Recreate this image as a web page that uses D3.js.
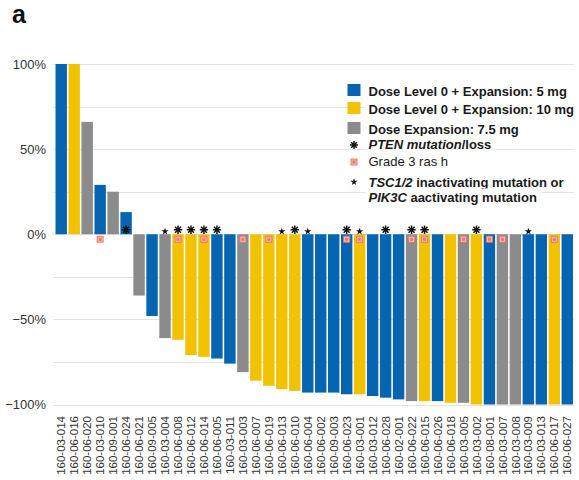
<!DOCTYPE html>
<html>
<head>
<meta charset="utf-8">
<script src="https://cdn.jsdelivr.net/npm/d3@7/dist/d3.min.js"></script>
<style>
  html, body { margin: 0; padding: 0; background: #fff; }
  svg { display: block; font-family: "Liberation Sans", Arial, Helvetica, sans-serif; }
</style>
</head>
<body>
<svg id="chart" width="579" height="480"></svg>
<script>
// Patients ordered by best change in tumour size (waterfall)
const patients = [
  "160-03-014","160-06-016","160-06-020","160-03-010","160-09-001","160-06-024",
  "160-06-021","160-09-005","160-03-004","160-06-008","160-06-012","160-06-014",
  "160-06-005","160-03-011","160-03-003","160-06-007","160-06-019","160-06-013",
  "160-06-010","160-06-004","160-06-002","160-09-003","160-06-023","160-03-001",
  "160-03-012","160-06-028","160-02-001","160-06-022","160-06-015","160-06-026",
  "160-06-018","160-03-005","160-03-002","160-08-001","160-03-007","160-03-008",
  "160-03-009","160-03-013","160-06-017","160-06-027"
];

// Best percentage change from baseline
const change = [
  100, 100, 66, 29, 25, 13,
  -36, -48, -61, -62, -71, -72,
  -73, -76, -81, -86, -89, -91,
  -92, -93, -93, -93, -94, -94,
  -95, -96, -97, -98, -98, -98,
  -99, -99, -100, -100, -100, -100,
  -100, -100, -100, -100
];

// Dose cohort of each patient: 5 = 5 mg, 10 = 10 mg, 7.5 = 7.5 mg expansion
const dose = [
  5, 10, 7.5, 5, 7.5, 5,
  7.5, 5, 7.5, 10, 10, 10,
  5, 5, 7.5, 10, 10, 10,
  10, 5, 5, 5, 5, 10,
  5, 5, 5, 7.5, 10, 5,
  10, 7.5, 10, 5, 7.5, 7.5,
  5, 5, 10, 5
];

const ptenPatients = ["160-06-024","160-06-008","160-06-012","160-06-014","160-06-005",
  "160-06-010","160-06-023","160-06-028","160-06-022","160-06-015","160-03-002"];
const rashPatients = ["160-03-010","160-06-008","160-06-014","160-03-003","160-06-019",
  "160-06-023","160-03-001","160-06-022","160-06-015","160-03-005","160-08-001",
  "160-03-007","160-06-017"];
const tscPatients = ["160-03-004","160-06-013","160-06-004","160-03-001","160-03-009"];

const yTicks = [-100, -50, 0, 50, 100];
const gridTicks = [-100, -75, -50, -25, 0, 25, 50, 75, 100];

const doseLabels = [
  { dose: 5,   text: "Dose Level 0 + Expansion: 5 mg" },
  { dose: 10,  text: "Dose Level 0 + Expansion: 10 mg" },
  { dose: 7.5, text: "Dose Expansion: 7.5 mg" }
];

const colour = d3.scaleOrdinal()
  .domain([5, 10, 7.5])
  .range(["#0565b0", "#f2c200", "#8b8b8b"]);

const svg = d3.select("#chart");

const x = d3.scaleBand()
  .domain(patients)
  .range([55, 573.5])
  .paddingInner(0.12)
  .paddingOuter(0.04);

const y = d3.scaleLinear()
  .domain([-100, 100])
  .range([404.5, 64]);

// panel letter
svg.append("text")
  .attr("x", 12).attr("y", 23)
  .attr("font-size", 25).attr("font-weight", "bold")
  .attr("fill", "#111")
  .text("a");

// gridlines
svg.append("g")
  .selectAll("line")
  .data(gridTicks)
  .join("line")
  .attr("x1", 53).attr("x2", 574)
  .attr("y1", d => Math.round(y(d)) + 0.5)
  .attr("y2", d => Math.round(y(d)) + 0.5)
  .attr("stroke", "#e4e4e4")
  .attr("stroke-width", 1);

// y axis labels
const yAxis = d3.axisLeft(y)
  .tickValues(yTicks)
  .tickSize(0)
  .tickPadding(0)
  .tickFormat(d => (d < 0 ? "\u2212" + Math.abs(d) : d) + "%");

svg.append("g")
  .attr("transform", "translate(46,0)")
  .call(yAxis)
  .call(g => g.select(".domain").remove())
  .call(g => g.selectAll("text")
    .attr("font-size", 13)
    .attr("font-family", "Liberation Sans, Arial, sans-serif")
    .attr("fill", "#333"));

// legend (drawn with white backgrounds so gridlines stop behind it)
const legend = svg.append("g");
const legendX = 347.5, textX = 368.5;
const rowTextY = [95.5, 113.5, 133.5, 149, 165.5, 186.5, 201.5];

function legendText(yPos, parts, weight) {
  const bg = legend.append("rect").attr("fill", "#fff");
  const t = legend.append("text")
    .attr("x", textX).attr("y", yPos)
    .attr("font-size", 13)
    .attr("font-weight", weight)
    .attr("fill", "#1a1a1a");
  parts.forEach(p => {
    t.append("tspan")
      .attr("font-style", p.italic ? "italic" : "normal")
      .text(p.t);
  });
  const b = t.node().getBBox();
  bg.attr("x", b.x - 3).attr("y", b.y - 1)
    .attr("width", b.width + 8).attr("height", b.height + 2);
  return t;
}

doseLabels.forEach((d, i) => {
  legendText(rowTextY[i], [{ t: d.text }], "bold");
  legend.append("rect")
    .attr("x", legendX).attr("y", rowTextY[i] - 11.5)
    .attr("width", 13).attr("height", 12)
    .attr("fill", colour(d.dose));
});

legendText(rowTextY[3], [{ t: "PTEN mutation", italic: true }, { t: "/loss" }], "bold");
legendText(rowTextY[4], [{ t: "Grade 3 ras h" }], "normal");
legendText(rowTextY[5], [{ t: "TSC1/2", italic: true }, { t: " inactivating mutation or" }], "bold");
legendText(rowTextY[6], [{ t: "PIK3C", italic: true }, { t: " aactivating mutation" }], "bold");

// marker drawers
function ptenMark(g, cx, cy, r) {
  const m = g.append("g").attr("transform", `translate(${cx},${cy})`);
  for (let k = 0; k < 4; k++) {
    const a = k * Math.PI / 4;
    m.append("line")
      .attr("x1", -r * Math.cos(a)).attr("y1", -r * Math.sin(a))
      .attr("x2", r * Math.cos(a)).attr("y2", r * Math.sin(a))
      .attr("stroke", "#111").attr("stroke-width", 1.5);
  }
  m.append("circle").attr("r", 1.6).attr("fill", "#111");
}
function rashMark(g, cx, cy) {
  const m = g.append("g").attr("transform", `translate(${cx},${cy})`);
  m.append("rect").attr("x", -3.5).attr("y", -3.5).attr("width", 7).attr("height", 7)
    .attr("fill", "#ec7a72");
  m.append("rect").attr("x", -2).attr("y", -2).attr("width", 4).attr("height", 4)
    .attr("fill", "none").attr("stroke", "#f7c9c2").attr("stroke-width", 0.8);
}
const starPath = d3.symbol().type(d3.symbolStar).size(16);
function tscMark(g, cx, cy) {
  g.append("path").attr("d", starPath()).attr("transform", `translate(${cx},${cy})`)
    .attr("fill", "#111");
}

// legend symbols
ptenMark(legend, legendX + 6.5, 145, 4);
rashMark(legend, legendX + 6.5, 162);
tscMark(legend, legendX + 6.5, 182);

// bars
const rows = patients.map((p, i) => ({ id: p, value: change[i], dose: dose[i] }));

svg.append("g")
  .selectAll("rect")
  .data(rows)
  .join("rect")
  .attr("x", d => x(d.id))
  .attr("width", x.bandwidth())
  .attr("y", d => y(Math.max(0, d.value)))
  .attr("height", d => Math.abs(y(d.value) - y(0)))
  .attr("fill", d => colour(d.dose));

// annotation markers at the zero line
const marks = svg.append("g");
const cx = id => x(id) + x.bandwidth() / 2;
rashPatients.forEach(id => rashMark(marks, cx(id), y(0) + 5));
ptenPatients.forEach(id => ptenMark(marks, cx(id), y(0) - 4.5, 4.2));
tscPatients.forEach(id => tscMark(marks, cx(id), y(0) - 2.8));

// x axis: rotated patient identifiers
const xAxis = d3.axisBottom(x).tickSize(0).tickPadding(0);
svg.append("g")
  .attr("transform", "translate(0,416)")
  .call(xAxis)
  .call(g => g.select(".domain").remove())
  .call(g => g.selectAll("text")
    .attr("font-size", 11.5)
    .attr("font-family", "Liberation Sans, Arial, sans-serif")
    .attr("fill", "#333")
    .attr("text-anchor", "end")
    .attr("transform", "rotate(-90)")
    .attr("x", 0)
    .attr("y", 0)
    .attr("dy", "0.36em"));
</script>
</body>
</html>
